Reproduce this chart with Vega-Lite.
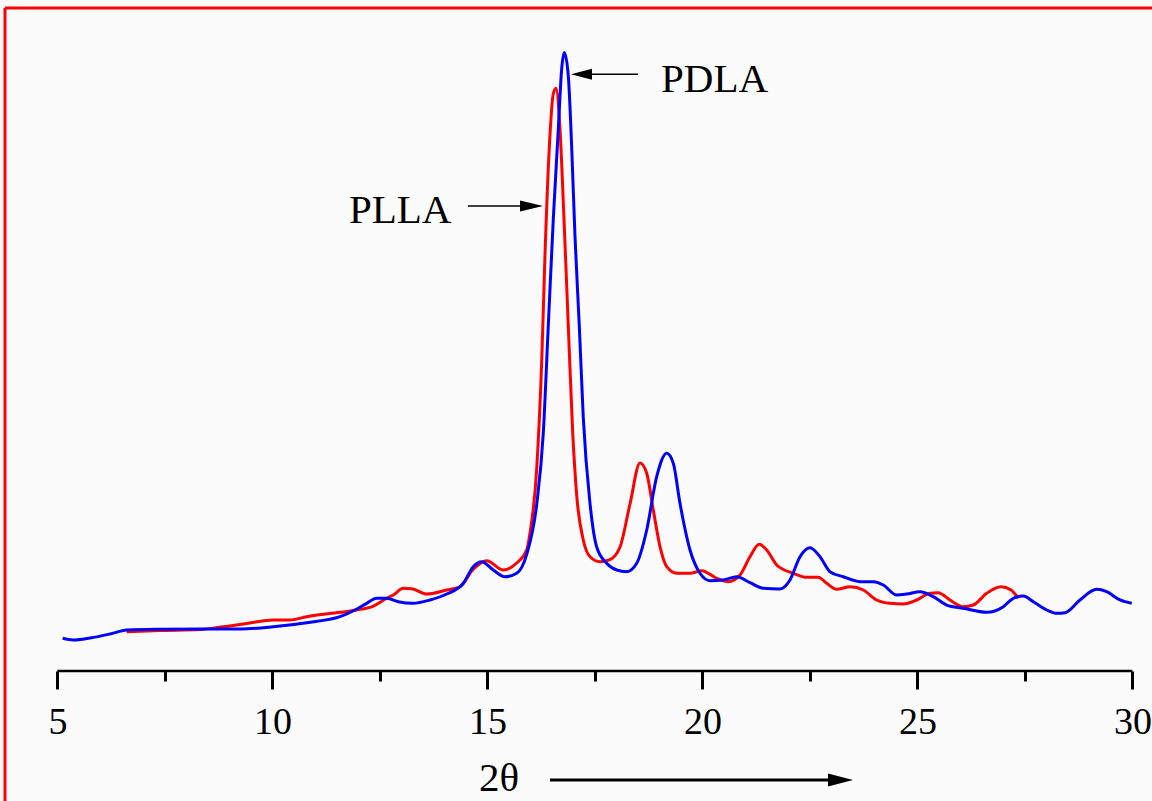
{
  "$schema": "https://vega.github.io/schema/vega-lite/v6.json",
  "width": 1147,
  "height": 663,
  "autosize": {"type": "none"},
  "padding": {"left": 5, "top": 8, "right": 0, "bottom": 130},
  "background": "#fbfbfb",
  "config": {"view": {"stroke": null}, "font": "Liberation Serif"},
  "datasets": {
    "pdla": [
      {"theta":5.123,"I":4.93},{"theta":5.363,"I":4.68},{"theta":5.758,"I":4.98},{"theta":6.223,"I":5.58},{"theta":6.612,"I":6.18},{"theta":7.386,"I":6.29},{"theta":8.316,"I":6.33},{"theta":9.247,"I":6.33},{"theta":10.021,"I":6.68},{"theta":10.798,"I":7.29},{"theta":11.572,"I":8.19},{"theta":11.921,"I":9.2},{"theta":12.193,"I":10.21},{"theta":12.426,"I":10.97},{"theta":12.658,"I":10.97},{"theta":12.928,"I":10.45},{"theta":13.27,"I":10.21},{"theta":13.665,"I":10.71},{"theta":14.053,"I":11.61},{"theta":14.44,"I":13.23},{"theta":14.672,"I":15.73},{"theta":14.867,"I":16.49},{"theta":15.137,"I":15.23},{"theta":15.409,"I":14.22},{"theta":15.681,"I":14.74},{"theta":15.914,"I":17.6},{"theta":16.147,"I":25.14},{"theta":16.3,"I":35.91},{"theta":16.416,"I":52.08},{"theta":16.533,"I":68.24},{"theta":16.649,"I":81.7},{"theta":16.728,"I":90.86},{"theta":16.788,"I":93.29},{"theta":16.881,"I":89.79},{"theta":16.96,"I":79.03},{"theta":17.037,"I":65.55},{"theta":17.137,"I":52.08},{"theta":17.23,"I":38.2},{"theta":17.386,"I":25.29},{"theta":17.542,"I":18.7},{"theta":17.774,"I":16.24},{"theta":18.007,"I":15.23},{"theta":18.24,"I":14.98},{"theta":18.472,"I":16.24},{"theta":18.705,"I":21.27},{"theta":18.937,"I":29.31},{"theta":19.17,"I":32.84},{"theta":19.323,"I":31.33},{"theta":19.479,"I":25.29},{"theta":19.712,"I":18.25},{"theta":19.944,"I":14.74},{"theta":20.177,"I":13.62},{"theta":20.486,"I":13.73},{"theta":20.798,"I":14.22},{"theta":21.107,"I":13.32},{"theta":21.416,"I":12.47},{"theta":21.805,"I":12.37},{"theta":22.037,"I":13.73},{"theta":22.27,"I":17.24},{"theta":22.502,"I":18.6},{"theta":22.735,"I":17.24},{"theta":22.967,"I":14.98},{"theta":23.277,"I":14.22},{"theta":23.665,"I":13.47},{"theta":23.974,"I":13.47},{"theta":24.207,"I":12.97},{"theta":24.519,"I":11.46},{"theta":24.751,"I":11.61},{"theta":25.06,"I":11.96},{"theta":25.37,"I":11.21},{"theta":25.681,"I":9.95},{"theta":26.067,"I":9.46},{"theta":26.612,"I":8.85},{"theta":26.998,"I":9.7},{"theta":27.23,"I":10.97},{"theta":27.463,"I":11.31},{"theta":27.695,"I":10.45},{"theta":28.007,"I":9.2},{"theta":28.24,"I":8.7},{"theta":28.433,"I":8.79},{"theta":28.781,"I":10.71},{"theta":29.17,"I":12.32},{"theta":29.402,"I":11.96},{"theta":29.712,"I":10.71},{"theta":29.984,"I":10.21}
    ],
    "plla": [
      {"theta":6.612,"I":5.93},{"theta":7.386,"I":6.11},{"theta":8.316,"I":6.26},{"theta":8.858,"I":6.68},{"theta":9.479,"I":7.24},{"theta":10.021,"I":7.69},{"theta":10.409,"I":7.69},{"theta":10.798,"I":8.19},{"theta":11.572,"I":8.85},{"theta":11.96,"I":9.2},{"theta":12.347,"I":9.8},{"theta":12.658,"I":10.97},{"theta":12.812,"I":11.46},{"theta":13.044,"I":12.47},{"theta":13.24,"I":12.41},{"theta":13.588,"I":11.61},{"theta":14.053,"I":12.22},{"theta":14.363,"I":12.71},{"theta":14.672,"I":15.34},{"theta":14.984,"I":16.64},{"theta":15.37,"I":15.23},{"theta":15.681,"I":16.29},{"theta":15.914,"I":18.25},{"theta":15.991,"I":20.81},{"theta":16.147,"I":30.53},{"theta":16.263,"I":46.7},{"theta":16.34,"I":62.85},{"theta":16.44,"I":79.03},{"theta":16.533,"I":87.09},{"theta":16.595,"I":87.9},{"theta":16.688,"I":81.7},{"theta":16.781,"I":68.24},{"theta":16.881,"I":52.08},{"theta":16.984,"I":35.91},{"theta":17.077,"I":26.5},{"theta":17.23,"I":19.76},{"theta":17.386,"I":17.24},{"theta":17.619,"I":16.49},{"theta":17.851,"I":16.8},{"theta":18.084,"I":18.7},{"theta":18.316,"I":25.19},{"theta":18.549,"I":31.37},{"theta":18.705,"I":29.82},{"theta":18.858,"I":24.28},{"theta":19.014,"I":18.75},{"theta":19.17,"I":15.73},{"theta":19.402,"I":14.74},{"theta":19.712,"I":14.74},{"theta":19.984,"I":15.13},{"theta":20.333,"I":13.98},{"theta":20.602,"I":13.47},{"theta":20.874,"I":14.48},{"theta":21.107,"I":17.24},{"theta":21.323,"I":19.11},{"theta":21.495,"I":18.25},{"theta":21.728,"I":15.99},{"theta":22.114,"I":14.74},{"theta":22.426,"I":14.13},{"theta":22.695,"I":14.13},{"theta":22.891,"I":13.23},{"theta":23.123,"I":12.32},{"theta":23.433,"I":12.71},{"theta":23.742,"I":12.22},{"theta":24.053,"I":10.71},{"theta":24.363,"I":10.21},{"theta":24.672,"I":10.11},{"theta":24.984,"I":10.71},{"theta":25.293,"I":11.72},{"theta":25.486,"I":11.81},{"theta":25.758,"I":10.71},{"theta":26.067,"I":9.7},{"theta":26.3,"I":9.95},{"theta":26.612,"I":11.72},{"theta":26.944,"I":12.71},{"theta":27.177,"I":12.22},{"theta":27.347,"I":10.97}
    ],
    "labels": [
      {"theta": 19.037, "I": 87.33, "text": "PDLA"},
      {"theta": 11.781, "I": 67.57, "text": "PLLA"},
      {"theta": 14.805, "I": -18.1, "text": "2θ"}
    ],
    "thinArrows": [
      {"theta": 17.433, "theta2": 18.502, "I": 90.0},
      {"theta": 14.549, "theta2": 15.805, "I": 70.14}
    ],
    "axisArrow": [
      {"theta": 16.456, "theta2": 23.084, "I": -16.44}
    ],
    "headLeft": [{"theta": 17.188, "I": 90.0}],
    "headRight": [{"theta": 16.026, "I": 70.14}],
    "headAxis": [{"theta": 23.212, "I": -16.44}],
    "frameLeft": [{"theta": 3.7814, "I": 100, "I2": -25}],
    "frameTop": [{"theta": 3.7814, "theta2": 30.4558, "I": 100}],
    "axisLine": [{"theta": 5, "theta2": 30, "I": 0}]
  },
  "resolve": {"axis": {"x": "independent"}},
  "layer": [
    {
      "data": {"name": "frameLeft"},
      "mark": {"type": "rule", "color": "#ff0000", "strokeWidth": 3},
      "encoding": {
        "x": {"field": "theta", "type": "quantitative", "scale": {"domain": [3.7814, 30.4558], "nice": false, "zero": false}, "axis": null},
        "y": {"field": "I", "type": "quantitative", "scale": {"domain": [0, 100], "nice": false, "zero": false}, "axis": null},
        "y2": {"field": "I2"}
      }
    },
    {
      "data": {"name": "frameTop"},
      "mark": {"type": "rule", "color": "#ff0000", "strokeWidth": 3},
      "encoding": {
        "x": {"field": "theta", "type": "quantitative", "scale": {"domain": [3.7814, 30.4558], "nice": false, "zero": false}, "axis": null},
        "x2": {"field": "theta2"},
        "y": {"field": "I", "type": "quantitative", "scale": {"domain": [0, 100], "nice": false, "zero": false}, "axis": null}
      }
    },
    {
      "data": {"name": "plla"},
      "mark": {"type": "line", "color": "#ff0000", "strokeWidth": 3, "interpolate": "monotone"},
      "encoding": {
        "x": {"field": "theta", "type": "quantitative", "scale": {"domain": [3.7814, 30.4558], "nice": false, "zero": false},
          "axis": {"orient": "bottom", "values": [7.5, 12.5, 17.5, 22.5, 27.5], "domain": false, "grid": false, "ticks": true, "tickSize": 10, "tickWidth": 3, "tickColor": "#000000", "labels": false, "title": null}},
        "y": {"field": "I", "type": "quantitative", "scale": {"domain": [0, 100], "nice": false, "zero": false}, "axis": null}
      }
    },
    {
      "data": {"name": "pdla"},
      "mark": {"type": "line", "color": "#0000ff", "strokeWidth": 3, "interpolate": "monotone"},
      "encoding": {
        "x": {"field": "theta", "type": "quantitative", "scale": {"domain": [3.7814, 30.4558], "nice": false, "zero": false},
          "axis": {"orient": "bottom", "values": [5, 10, 15, 20, 25, 30], "domain": false, "grid": false, "ticks": true, "tickSize": 18, "tickWidth": 3, "tickColor": "#000000", "labels": true, "labelFont": "Liberation Serif", "labelFontSize": 38, "labelColor": "#000000", "labelBaseline": "alphabetic", "labelPadding": 44, "labelFlush": false, "labelOverlap": false, "title": null}},
        "y": {"field": "I", "type": "quantitative", "scale": {"domain": [0, 100], "nice": false, "zero": false}, "axis": null}
      }
    },
    {
      "data": {"name": "axisLine"},
      "mark": {"type": "rule", "color": "#000000", "strokeWidth": 2.5},
      "encoding": {
        "x": {"field": "theta", "type": "quantitative", "scale": {"domain": [3.7814, 30.4558], "nice": false, "zero": false}, "axis": null},
        "x2": {"field": "theta2"},
        "y": {"field": "I", "type": "quantitative", "scale": {"domain": [0, 100], "nice": false, "zero": false}, "axis": null}
      }
    },
    {
      "data": {"name": "thinArrows"},
      "mark": {"type": "rule", "color": "#000000", "strokeWidth": 1.5},
      "encoding": {
        "x": {"field": "theta", "type": "quantitative", "scale": {"domain": [3.7814, 30.4558], "nice": false, "zero": false}, "axis": null},
        "x2": {"field": "theta2"},
        "y": {"field": "I", "type": "quantitative", "scale": {"domain": [0, 100], "nice": false, "zero": false}, "axis": null}
      }
    },
    {
      "data": {"name": "axisArrow"},
      "mark": {"type": "rule", "color": "#000000", "strokeWidth": 3},
      "encoding": {
        "x": {"field": "theta", "type": "quantitative", "scale": {"domain": [3.7814, 30.4558], "nice": false, "zero": false}, "axis": null},
        "x2": {"field": "theta2"},
        "y": {"field": "I", "type": "quantitative", "scale": {"domain": [0, 100], "nice": false, "zero": false}, "axis": null}
      }
    },
    {
      "data": {"name": "headLeft"},
      "mark": {"type": "point", "filled": true, "color": "#000000", "opacity": 1, "strokeWidth": 0, "shape": "M-1,0L1,-0.52L1,0.52Z", "size": 441},
      "encoding": {
        "x": {"field": "theta", "type": "quantitative", "scale": {"domain": [3.7814, 30.4558], "nice": false, "zero": false}, "axis": null},
        "y": {"field": "I", "type": "quantitative", "scale": {"domain": [0, 100], "nice": false, "zero": false}, "axis": null}
      }
    },
    {
      "data": {"name": "headRight"},
      "mark": {"type": "point", "filled": true, "color": "#000000", "opacity": 1, "strokeWidth": 0, "shape": "M1,0L-1,-0.48L-1,0.48Z", "size": 529},
      "encoding": {
        "x": {"field": "theta", "type": "quantitative", "scale": {"domain": [3.7814, 30.4558], "nice": false, "zero": false}, "axis": null},
        "y": {"field": "I", "type": "quantitative", "scale": {"domain": [0, 100], "nice": false, "zero": false}, "axis": null}
      }
    },
    {
      "data": {"name": "headAxis"},
      "mark": {"type": "point", "filled": true, "color": "#000000", "opacity": 1, "strokeWidth": 0, "shape": "M1,0L-1,-0.52L-1,0.52Z", "size": 625},
      "encoding": {
        "x": {"field": "theta", "type": "quantitative", "scale": {"domain": [3.7814, 30.4558], "nice": false, "zero": false}, "axis": null},
        "y": {"field": "I", "type": "quantitative", "scale": {"domain": [0, 100], "nice": false, "zero": false}, "axis": null}
      }
    },
    {
      "data": {"name": "labels"},
      "mark": {"type": "text", "align": "left", "baseline": "alphabetic", "font": "Liberation Serif", "fontSize": 41, "color": "#000000"},
      "encoding": {
        "x": {"field": "theta", "type": "quantitative", "scale": {"domain": [3.7814, 30.4558], "nice": false, "zero": false}, "axis": null},
        "y": {"field": "I", "type": "quantitative", "scale": {"domain": [0, 100], "nice": false, "zero": false}, "axis": null},
        "text": {"field": "text", "type": "nominal"}
      }
    }
  ]
}
